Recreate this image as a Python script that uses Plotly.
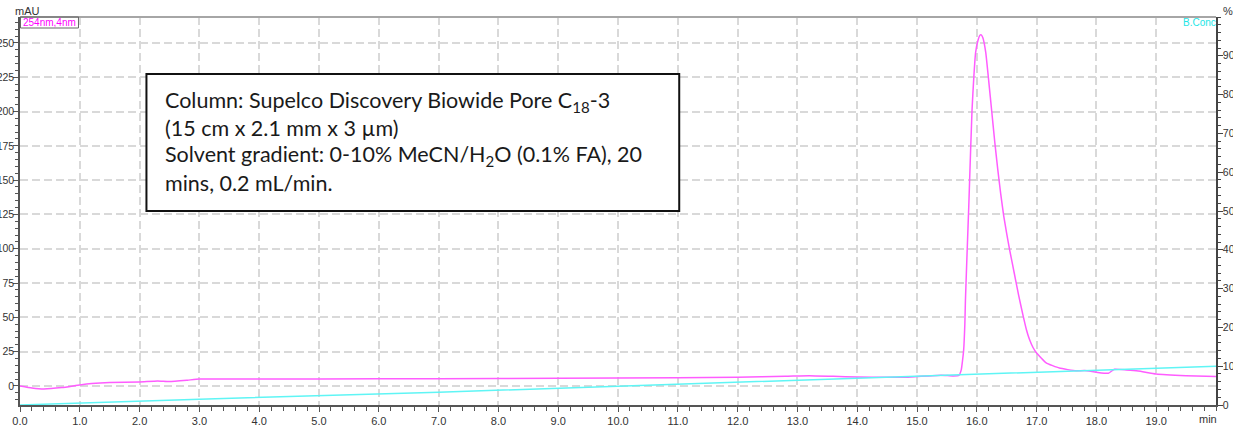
import plotly.graph_objects as go

# UV trace at 254 nm (mAU) versus retention time (min)
uv_time = [0.0, 0.2, 0.4, 0.7, 1.0, 1.2, 1.5, 2.0, 2.3, 2.5, 2.8, 3.0, 5.0, 7.0,
           9.0, 11.0, 12.0, 12.8, 13.2, 13.6, 14.0, 14.5, 14.8, 15.0, 15.4, 15.6,
           15.70, 15.74, 15.76, 15.78, 15.80, 15.81, 15.84, 15.865, 15.88, 15.92,
           15.95, 15.98, 16.02, 16.05, 16.07, 16.10, 16.15, 16.20, 16.25, 16.30,
           16.35, 16.40, 16.45, 16.50, 16.55, 16.60, 16.65, 16.70, 16.77, 16.83,
           16.88, 16.94, 17.0, 17.16, 17.38, 17.66, 17.8, 18.0,
           18.2, 18.3, 18.5, 18.7, 19.0, 19.5, 20.0]
uv_mau = [0.0, -1.5, -2.2, -1.2, 0.7, 1.7, 2.5, 2.9, 3.6, 3.2, 4.2, 5.0, 5.0, 5.3,
          5.6, 6.0, 6.3, 7.0, 7.5, 7.0, 6.5, 6.3, 6.3, 6.8, 7.8, 7.3,
          7.6, 11.7, 18.0, 26.0, 45.0, 62.7, 100.0, 130.0, 150.0, 201.0,
          225.0, 243.0, 252.0, 255.5, 256.0, 254.0, 243.0, 222.0, 200.0, 178.0,
          158.0, 140.0, 124.0, 111.0, 99.0, 88.0, 77.0, 66.0, 52.0, 41.0,
          34.0, 28.0, 24.0, 16.8, 13.0, 11.0, 11.2, 10.0,
          9.2, 12.2, 11.7, 10.9, 8.7, 7.5, 6.8]

# Solvent B concentration (%)
grad_time = [0.0, 3.0, 7.0, 15.0, 20.0]
grad_conc = [0.0, 1.5, 3.3, 7.5, 10.0]

# Axis tick labels
x_ticks = list(range(0, 20))
x_labels = [f"{t:.1f}" for t in x_ticks]
mau_ticks = list(range(0, 251, 25))
pct_ticks = list(range(0, 91, 10))

info_lines = [
    "Column: Supelco Discovery Biowide Pore C<sub>18</sub>-3",
    "(15 cm x 2.1 mm x 3 µm)",
    "Solvent gradient: 0-10% MeCN/H<sub>2</sub>O (0.1% FA), 20",
    "mins, 0.2 mL/min.",
]

W, H = 1233, 431
L, R, T, B = 19.5, 17, 17, 26
pw, ph = W - L - R, H - T - B


def px(x):
    return (x - L) / pw


def py(y):
    return 1 - (y - T) / ph


x_font = dict(family="Liberation Sans, Arial, sans-serif", size=11, color="#333333")
y_font = dict(family="Liberation Sans, Arial, sans-serif", size=10.5, color="#333333")
grid_kw = dict(showgrid=True, gridcolor="#d9d9d9", gridwidth=1.5, griddash="8px,4px")

fig = go.Figure()
fig.add_trace(go.Scatter(
    x=uv_time, y=uv_mau, mode="lines", yaxis="y",
    line=dict(color="#ff5cff", width=1.5, shape="spline", smoothing=0.4),
    hoverinfo="skip", showlegend=False))
fig.add_trace(go.Scatter(
    x=grad_time, y=grad_conc, mode="lines", yaxis="y2",
    line=dict(color="#5ff5f5", width=1.5),
    hoverinfo="skip", showlegend=False))

fig.update_layout(
    width=W, height=H,
    margin=dict(l=L, r=R, t=T, b=B, pad=0),
    paper_bgcolor="white", plot_bgcolor="white",
    showlegend=False,
    xaxis=dict(
        range=[0, 20], tickvals=x_ticks, ticktext=x_labels,
        ticks="outside", ticklen=5, tickcolor="#555555", tickwidth=1,
        showline=True, linecolor="#555555", linewidth=1.5,
        tickfont=x_font, automargin=False, zeroline=False,
        minor=dict(dtick=0.2, tick0=0, ticks="outside", ticklen=4,
                   tickcolor="#555555", showgrid=False),
        **grid_kw),
    yaxis=dict(
        range=[-13.9, 268.9], tickvals=mau_ticks,
        ticks="outside", ticklen=5, tickcolor="#555555", tickwidth=1,
        ticklabelstandoff=-3,
        showline=True, linecolor="#555555", linewidth=1.5,
        tickfont=y_font, automargin=False, zeroline=False,
        minor=dict(dtick=5, tick0=0, ticks="outside", ticklen=3,
                   tickcolor="#555555", showgrid=False),
        **grid_kw),
    yaxis2=dict(
        range=[0, 100], tickvals=pct_ticks, overlaying="y", side="right",
        ticks="outside", ticklen=5, tickcolor="#444444", tickwidth=1,
        ticklabelstandoff=-2,
        showline=True, linecolor="#444444", linewidth=1.5,
        tickfont=y_font, automargin=False, zeroline=False, showgrid=False,
        minor=dict(dtick=2, tick0=0, ticks="outside", ticklen=3,
                   tickcolor="#444444", showgrid=False)),
)

shapes = [
    # top frame line
    dict(type="line", xref="paper", yref="paper", x0=0, x1=1, y0=1, y1=1,
         line=dict(color="#a6a6a6", width=2)),
    # channel label box
    dict(type="rect", xref="paper", yref="paper", x0=px(20), x1=px(78),
         y0=py(28), y1=py(17), line=dict(color="#666666", width=1)),
    # method information box
    dict(type="rect", xref="paper", yref="paper", x0=px(146), x1=px(679),
         y0=py(211), y1=py(74), fillcolor="white",
         line=dict(color="#111111", width=2)),
]
fig.update_layout(shapes=shapes)

annotations = [
    dict(text="mAU", x=px(27), y=py(11), xref="paper", yref="paper",
         showarrow=False, xanchor="center", yanchor="middle",
         font=dict(family="Liberation Sans, Arial", size=11, color="#333333")),
    dict(text="%", x=px(1228), y=py(11), xref="paper", yref="paper",
         showarrow=False, xanchor="center", yanchor="middle",
         font=dict(family="Liberation Sans, Arial", size=11, color="#333333")),
    dict(text="min", x=px(1208), y=py(419), xref="paper", yref="paper",
         showarrow=False, xanchor="center", yanchor="middle",
         font=x_font),
    dict(text="254nm,4nm", x=px(21), y=py(22.5), xref="paper", yref="paper",
         showarrow=False, xanchor="left", yanchor="middle",
         font=dict(family="Liberation Sans, Arial", size=10, color="#ff00ff")),
    dict(text="B.Conc", x=px(1218), y=py(23), xref="paper", yref="paper",
         showarrow=False, xanchor="right", yanchor="middle",
         font=dict(family="Liberation Sans, Arial", size=10, color="#22e6e6")),
]
for i, line in enumerate(info_lines):
    annotations.append(dict(
        text=line, x=px(163), y=py(101 + i * 27.3), xref="paper", yref="paper",
        showarrow=False, xanchor="left", yanchor="middle",
        font=dict(family="Lato, Carlito, sans-serif", size=21.5, color="#1a1a1a")))
fig.update_layout(annotations=annotations)

fig.write_html("out.html")
